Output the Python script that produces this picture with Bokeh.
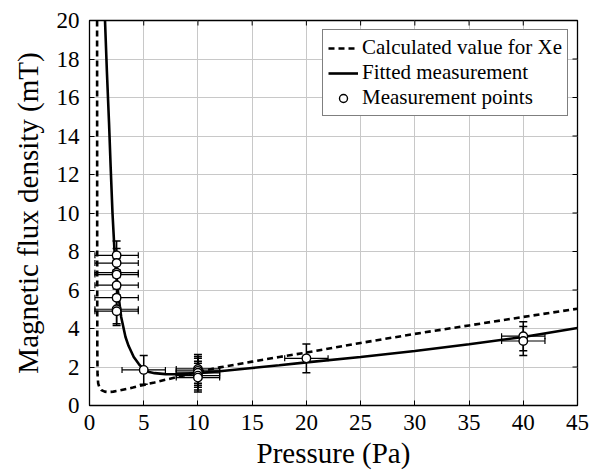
from bokeh.plotting import figure
from bokeh.models import (ColumnDataSource, Whisker, TeeHead, Legend, LegendItem,
                          FixedTicker, Range1d)
from bokeh.embed import file_html
from bokeh.resources import INLINE

# ---------------- data ----------------
x_ticks = [0, 5, 10, 15, 20, 25, 30, 35, 40, 45]
y_ticks = [0, 2, 4, 6, 8, 10, 12, 14, 16, 18, 20]

calc_p = [0.70, 0.71, 0.72, 0.74, 0.80, 0.92, 1.1, 1.4, 1.7, 2.2, 2.7, 4.0, 5.0, 6.0,
          8.0, 10.0, 12.0, 15.0, 17.5, 20.0, 25.0, 30.0, 35.0, 40.0, 45.0]
calc_b = [20.0, 8.0, 3.0, 1.6, 1.15, 0.93, 0.80, 0.72, 0.70, 0.72, 0.77, 0.93, 1.07, 1.20,
          1.47, 1.74, 1.98, 2.28, 2.52, 2.75, 3.25, 3.72, 4.16, 4.60, 5.03]

fit_p = [1.43, 1.6, 1.8, 1.95, 2.12, 2.3, 2.45, 2.61, 2.92, 3.32, 3.6, 4.08, 4.55, 5.0,
         5.5, 6.0, 7.0, 8.0, 10.0, 12.0, 15.0, 17.5, 20.0, 25.0, 30.0, 35.0, 40.0, 45.0]
fit_b = [20.0, 17.4, 14.7, 12.4, 10.0, 8.1, 7.0, 6.0, 4.6, 3.56, 3.1, 2.52, 2.15, 1.86,
         1.74, 1.68, 1.63, 1.62, 1.68, 1.78, 1.95, 2.09, 2.24, 2.52, 2.83, 3.18, 3.56, 4.03]

meas_p = [2.5, 2.5, 2.5, 2.5, 2.5, 2.5, 2.5, 2.5, 5.0, 10.0, 10.0, 10.0, 10.0, 10.0,
          20.0, 40.0, 40.0]
meas_b = [7.8, 7.4, 6.9, 6.8, 6.25, 5.6, 5.0, 4.9, 1.85, 1.9, 1.8, 1.7, 1.55, 1.45,
          2.45, 3.6, 3.35]
meas_perr = [2.0] * 17
meas_berr = [0.75] * 17

x_min, x_max = 0, 45
y_min, y_max = 0, 20

# ---------------- figure ----------------
FONT = "Liberation Serif"

p = figure(width=590, height=473, output_backend="svg", toolbar_location=None,
           x_range=Range1d(x_min, x_max), y_range=Range1d(y_min, y_max),
           min_border_left=89, min_border_right=13, min_border_top=20, min_border_bottom=68)

p.background_fill_color = "white"
p.border_fill_color = "white"
p.outline_line_color = "black"
p.outline_line_width = 1.3

p.xaxis.ticker = FixedTicker(ticks=x_ticks)
p.yaxis.ticker = FixedTicker(ticks=y_ticks)
p.xgrid.ticker = FixedTicker(ticks=x_ticks)
p.ygrid.ticker = FixedTicker(ticks=y_ticks)
p.grid.grid_line_color = "#c8c8c8"
p.grid.grid_line_width = 1

xa = p.xaxis[0]
ya = p.yaxis[0]
for ax in (xa, ya):
    ax.major_tick_in = 5
    ax.major_tick_out = 0
    ax.minor_tick_line_color = None
    ax.axis_line_color = "black"
    ax.major_tick_line_color = "black"
    ax.major_label_text_font = FONT
    ax.major_label_text_font_size = "23px"
    ax.major_label_text_color = "black"
    ax.axis_label_text_font = FONT
    ax.axis_label_text_font_style = "normal"
    ax.axis_label_text_color = "black"

xa.axis_label = "Pressure (Pa)"
xa.axis_label_text_font_size = "29px"
xa.major_label_standoff = 9
xa.axis_label_standoff = 4
ya.axis_label = "Magnetic flux density (mT)"
ya.axis_label_text_font_size = "29px"
ya.major_label_standoff = 10
ya.axis_label_standoff = 10

# mirrored inward ticks on the right and top frame edges (clipped half-dashes)
p.scatter([x_max] * len(y_ticks), y_ticks, marker="dash", size=10,
          line_color="black", line_width=1)
p.scatter(x_ticks, [y_max] * len(x_ticks), marker="dash", angle=1.5708, size=10,
          line_color="black", line_width=1)

# curves
r_calc = p.line(calc_p, calc_b, line_color="black", line_width=2.6, line_dash="6 4")
r_fit = p.line(fit_p, fit_b, line_color="black", line_width=2.6)

# error bars
src = ColumnDataSource(dict(
    x=meas_p, y=meas_b,
    xlo=[a - e for a, e in zip(meas_p, meas_perr)],
    xhi=[a + e for a, e in zip(meas_p, meas_perr)],
    ylo=[b - e for b, e in zip(meas_b, meas_berr)],
    yhi=[b + e for b, e in zip(meas_b, meas_berr)],
))
wy = Whisker(source=src, base="x", lower="ylo", upper="yhi", dimension="height",
             line_color="black", line_width=1.5,
             upper_head=TeeHead(size=8, line_color="black", line_width=1.5),
             lower_head=TeeHead(size=8, line_color="black", line_width=1.5))
wx = Whisker(source=src, base="y", lower="xlo", upper="xhi", dimension="width",
             line_color="black", line_width=1.2,
             upper_head=TeeHead(size=6, line_color="black", line_width=1.2),
             lower_head=TeeHead(size=6, line_color="black", line_width=1.2))
p.add_layout(wx)
p.add_layout(wy)

r_pts = p.scatter("x", "y", source=src, marker="circle", size=8.5,
                  fill_color="white", line_color="black", line_width=1.4)

legend = Legend(items=[
    LegendItem(label="Calculated value for Xe", renderers=[r_calc]),
    LegendItem(label="Fitted measurement", renderers=[r_fit]),
    LegendItem(label="Measurement points", renderers=[r_pts]),
], location="top_right")
legend.margin = 9
legend.padding = 5
legend.spacing = 0
legend.glyph_width = 30
legend.glyph_height = 20
legend.label_height = 20
legend.label_standoff = 4
legend.label_text_font = FONT
legend.label_text_font_size = "21px"
legend.label_text_color = "black"
legend.border_line_color = "black"
legend.border_line_width = 1.2
legend.background_fill_color = "white"
legend.background_fill_alpha = 1.0
p.add_layout(legend)

open("out.html", "w").write(file_html(p, INLINE))
